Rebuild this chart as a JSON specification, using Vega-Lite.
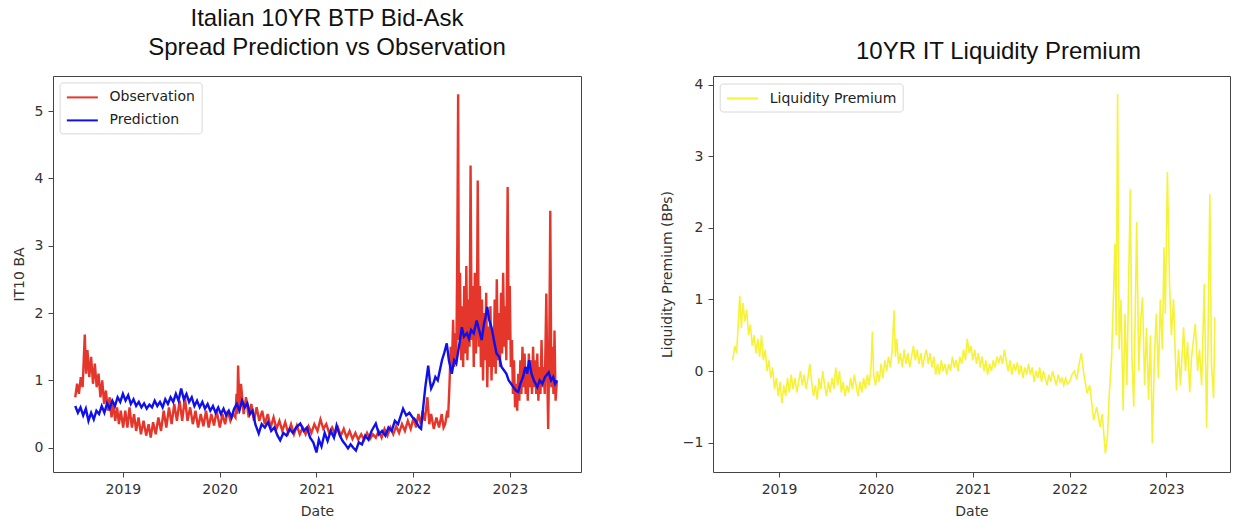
{
  "$schema": "https://vega.github.io/schema/vega-lite/v6.json",
  "background": "white",
  "padding": {"left": 11, "top": 6, "right": 0, "bottom": 0},
  "config": {
    "view": {"stroke": "#444", "strokeWidth": 1},
    "font": "DejaVu Sans",
    "axis": {"grid": false, "domain": false, "tickColor": "#444", "tickSize": 5, "labelPadding": 5, "labelFont": "DejaVu Sans", "labelFontSize": 14, "labelColor": "#333", "titleFont": "DejaVu Sans", "titleFontSize": 14, "titleFontWeight": "normal", "titleColor": "#333", "titlePadding": 8},
    "title": {"font": "Liberation Sans", "fontSize": 24, "fontWeight": "normal", "color": "#111", "lineHeight": 29},
    "concat": {"spacing": 77}
  },
  "resolve": {"scale": {"x": "independent", "y": "independent", "color": "independent"}, "legend": {"color": "independent"}},
  "datasets": {
    "bidask": [
      {"date":"2018-07-05","value":0.75,"series":"Observation"},{"date":"2018-07-12","value":0.95,"series":"Observation"},{"date":"2018-07-19","value":0.8,"series":"Observation"},{"date":"2018-07-26","value":1.05,"series":"Observation"},{"date":"2018-08-02","value":0.9,"series":"Observation"},{"date":"2018-08-06","value":1.3,"series":"Observation"},{"date":"2018-08-10","value":1.68,"series":"Observation"},{"date":"2018-08-15","value":1.1,"series":"Observation"},{"date":"2018-08-20","value":1.45,"series":"Observation"},{"date":"2018-08-27","value":1.05,"series":"Observation"},{"date":"2018-09-03","value":1.35,"series":"Observation"},{"date":"2018-09-10","value":0.95,"series":"Observation"},{"date":"2018-09-17","value":1.25,"series":"Observation"},{"date":"2018-09-24","value":0.9,"series":"Observation"},{"date":"2018-10-01","value":1.1,"series":"Observation"},{"date":"2018-10-08","value":0.75,"series":"Observation"},{"date":"2018-10-15","value":1.0,"series":"Observation"},{"date":"2018-10-22","value":0.65,"series":"Observation"},{"date":"2018-10-29","value":0.85,"series":"Observation"},{"date":"2018-11-05","value":0.55,"series":"Observation"},{"date":"2018-11-12","value":0.75,"series":"Observation"},{"date":"2018-11-19","value":0.45,"series":"Observation"},{"date":"2018-11-26","value":0.65,"series":"Observation"},{"date":"2018-12-03","value":0.4,"series":"Observation"},{"date":"2018-12-10","value":0.6,"series":"Observation"},{"date":"2018-12-17","value":0.35,"series":"Observation"},{"date":"2018-12-24","value":0.55,"series":"Observation"},
      {"date":"2019-01-02","value":0.3,"series":"Observation"},{"date":"2019-01-10","value":0.55,"series":"Observation"},{"date":"2019-01-18","value":0.3,"series":"Observation"},{"date":"2019-01-26","value":0.6,"series":"Observation"},{"date":"2019-02-04","value":0.3,"series":"Observation"},{"date":"2019-02-12","value":0.5,"series":"Observation"},{"date":"2019-02-20","value":0.25,"series":"Observation"},{"date":"2019-03-01","value":0.45,"series":"Observation"},{"date":"2019-03-10","value":0.2,"series":"Observation"},{"date":"2019-03-20","value":0.4,"series":"Observation"},{"date":"2019-03-30","value":0.18,"series":"Observation"},{"date":"2019-04-08","value":0.35,"series":"Observation"},{"date":"2019-04-16","value":0.15,"series":"Observation"},{"date":"2019-04-25","value":0.38,"series":"Observation"},{"date":"2019-05-05","value":0.2,"series":"Observation"},{"date":"2019-05-15","value":0.45,"series":"Observation"},{"date":"2019-05-25","value":0.25,"series":"Observation"},{"date":"2019-06-04","value":0.55,"series":"Observation"},{"date":"2019-06-14","value":0.3,"series":"Observation"},{"date":"2019-06-24","value":0.6,"series":"Observation"},{"date":"2019-07-04","value":0.35,"series":"Observation"},{"date":"2019-07-14","value":0.65,"series":"Observation"},{"date":"2019-07-24","value":0.4,"series":"Observation"},{"date":"2019-08-03","value":0.7,"series":"Observation"},{"date":"2019-08-13","value":0.4,"series":"Observation"},{"date":"2019-08-23","value":0.75,"series":"Observation"},{"date":"2019-09-02","value":0.4,"series":"Observation"},{"date":"2019-09-12","value":0.6,"series":"Observation"},{"date":"2019-09-22","value":0.35,"series":"Observation"},{"date":"2019-10-02","value":0.55,"series":"Observation"},{"date":"2019-10-12","value":0.3,"series":"Observation"},{"date":"2019-10-22","value":0.5,"series":"Observation"},{"date":"2019-11-01","value":0.32,"series":"Observation"},{"date":"2019-11-11","value":0.55,"series":"Observation"},{"date":"2019-11-21","value":0.3,"series":"Observation"},{"date":"2019-12-01","value":0.5,"series":"Observation"},{"date":"2019-12-11","value":0.33,"series":"Observation"},{"date":"2019-12-21","value":0.55,"series":"Observation"},
      {"date":"2020-01-02","value":0.3,"series":"Observation"},{"date":"2020-01-12","value":0.5,"series":"Observation"},{"date":"2020-01-22","value":0.35,"series":"Observation"},{"date":"2020-02-01","value":0.55,"series":"Observation"},{"date":"2020-02-11","value":0.4,"series":"Observation"},{"date":"2020-02-21","value":0.5,"series":"Observation"},{"date":"2020-03-01","value":0.45,"series":"Observation"},{"date":"2020-03-05","value":0.8,"series":"Observation"},{"date":"2020-03-08","value":0.5,"series":"Observation"},{"date":"2020-03-11","value":1.22,"series":"Observation"},{"date":"2020-03-16","value":0.6,"series":"Observation"},{"date":"2020-03-22","value":0.95,"series":"Observation"},{"date":"2020-04-01","value":0.5,"series":"Observation"},{"date":"2020-04-10","value":0.75,"series":"Observation"},{"date":"2020-04-20","value":0.45,"series":"Observation"},{"date":"2020-04-30","value":0.65,"series":"Observation"},{"date":"2020-05-10","value":0.4,"series":"Observation"},{"date":"2020-05-20","value":0.6,"series":"Observation"},{"date":"2020-05-30","value":0.4,"series":"Observation"},{"date":"2020-06-10","value":0.55,"series":"Observation"},{"date":"2020-06-20","value":0.35,"series":"Observation"},{"date":"2020-07-01","value":0.5,"series":"Observation"},{"date":"2020-07-12","value":0.3,"series":"Observation"},{"date":"2020-07-23","value":0.45,"series":"Observation"},{"date":"2020-08-03","value":0.28,"series":"Observation"},{"date":"2020-08-14","value":0.4,"series":"Observation"},{"date":"2020-08-25","value":0.25,"series":"Observation"},{"date":"2020-09-05","value":0.38,"series":"Observation"},{"date":"2020-09-16","value":0.22,"series":"Observation"},{"date":"2020-09-27","value":0.35,"series":"Observation"},{"date":"2020-10-08","value":0.2,"series":"Observation"},{"date":"2020-10-19","value":0.33,"series":"Observation"},{"date":"2020-10-30","value":0.2,"series":"Observation"},{"date":"2020-11-10","value":0.3,"series":"Observation"},{"date":"2020-11-21","value":0.2,"series":"Observation"},{"date":"2020-12-02","value":0.32,"series":"Observation"},{"date":"2020-12-13","value":0.22,"series":"Observation"},{"date":"2020-12-24","value":0.35,"series":"Observation"},
      {"date":"2021-01-05","value":0.25,"series":"Observation"},{"date":"2021-01-16","value":0.42,"series":"Observation"},{"date":"2021-01-27","value":0.28,"series":"Observation"},{"date":"2021-02-07","value":0.35,"series":"Observation"},{"date":"2021-02-18","value":0.22,"series":"Observation"},{"date":"2021-03-01","value":0.3,"series":"Observation"},{"date":"2021-03-12","value":0.2,"series":"Observation"},{"date":"2021-03-23","value":0.3,"series":"Observation"},{"date":"2021-04-03","value":0.18,"series":"Observation"},{"date":"2021-04-14","value":0.28,"series":"Observation"},{"date":"2021-04-25","value":0.15,"series":"Observation"},{"date":"2021-05-06","value":0.25,"series":"Observation"},{"date":"2021-05-17","value":0.13,"series":"Observation"},{"date":"2021-05-28","value":0.22,"series":"Observation"},{"date":"2021-06-08","value":0.12,"series":"Observation"},{"date":"2021-06-19","value":0.2,"series":"Observation"},{"date":"2021-06-30","value":0.12,"series":"Observation"},{"date":"2021-07-11","value":0.22,"series":"Observation"},{"date":"2021-07-22","value":0.13,"series":"Observation"},{"date":"2021-08-02","value":0.2,"series":"Observation"},{"date":"2021-08-13","value":0.15,"series":"Observation"},{"date":"2021-08-24","value":0.25,"series":"Observation"},{"date":"2021-09-04","value":0.15,"series":"Observation"},{"date":"2021-09-15","value":0.28,"series":"Observation"},{"date":"2021-09-26","value":0.18,"series":"Observation"},{"date":"2021-10-07","value":0.3,"series":"Observation"},{"date":"2021-10-18","value":0.2,"series":"Observation"},{"date":"2021-10-29","value":0.32,"series":"Observation"},{"date":"2021-11-09","value":0.22,"series":"Observation"},{"date":"2021-11-20","value":0.35,"series":"Observation"},{"date":"2021-12-01","value":0.25,"series":"Observation"},{"date":"2021-12-12","value":0.4,"series":"Observation"},{"date":"2021-12-23","value":0.28,"series":"Observation"},
      {"date":"2022-01-03","value":0.45,"series":"Observation"},{"date":"2022-01-12","value":0.3,"series":"Observation"},{"date":"2022-01-21","value":0.5,"series":"Observation"},{"date":"2022-01-30","value":0.35,"series":"Observation"},{"date":"2022-02-06","value":0.55,"series":"Observation"},{"date":"2022-02-14","value":0.4,"series":"Observation"},{"date":"2022-02-24","value":0.75,"series":"Observation"},{"date":"2022-03-03","value":0.35,"series":"Observation"},{"date":"2022-03-10","value":0.5,"series":"Observation"},{"date":"2022-03-20","value":0.28,"series":"Observation"},{"date":"2022-03-30","value":0.45,"series":"Observation"},{"date":"2022-04-09","value":0.3,"series":"Observation"},{"date":"2022-04-19","value":0.5,"series":"Observation"},{"date":"2022-04-26","value":0.3,"series":"Observation"},{"date":"2022-05-02","value":0.35,"series":"Observation"},{"date":"2022-05-08","value":0.5,"series":"Observation"},{"date":"2022-05-13","value":0.45,"series":"Observation"},{"date":"2022-05-18","value":0.9,"series":"Observation"},{"date":"2022-05-23","value":1.5,"series":"Observation"},{"date":"2022-05-27","value":1.1,"series":"Observation"},{"date":"2022-06-01","value":1.9,"series":"Observation"},{"date":"2022-06-05","value":1.2,"series":"Observation"},{"date":"2022-06-09","value":1.7,"series":"Observation"},{"date":"2022-06-13","value":1.3,"series":"Observation"},{"date":"2022-06-17","value":3.0,"series":"Observation"},{"date":"2022-06-20","value":5.25,"series":"Observation"},{"date":"2022-06-23","value":1.6,"series":"Observation"},{"date":"2022-06-27","value":2.6,"series":"Observation"},{"date":"2022-07-01","value":1.3,"series":"Observation"},{"date":"2022-07-05","value":2.1,"series":"Observation"},{"date":"2022-07-09","value":1.2,"series":"Observation"},{"date":"2022-07-13","value":2.4,"series":"Observation"},{"date":"2022-07-17","value":1.4,"series":"Observation"},{"date":"2022-07-21","value":2.7,"series":"Observation"},{"date":"2022-07-25","value":1.3,"series":"Observation"},{"date":"2022-07-29","value":2.2,"series":"Observation"},{"date":"2022-08-02","value":1.5,"series":"Observation"},{"date":"2022-08-06","value":4.19,"series":"Observation"},{"date":"2022-08-10","value":1.6,"series":"Observation"},{"date":"2022-08-14","value":2.4,"series":"Observation"},{"date":"2022-08-18","value":1.2,"series":"Observation"},{"date":"2022-08-22","value":2.6,"series":"Observation"},{"date":"2022-08-26","value":1.4,"series":"Observation"},{"date":"2022-08-30","value":2.0,"series":"Observation"},{"date":"2022-09-02","value":3.97,"series":"Observation"},{"date":"2022-09-06","value":1.5,"series":"Observation"},{"date":"2022-09-10","value":2.4,"series":"Observation"},{"date":"2022-09-14","value":1.2,"series":"Observation"},{"date":"2022-09-18","value":2.2,"series":"Observation"},{"date":"2022-09-22","value":1.0,"series":"Observation"},{"date":"2022-09-26","value":2.0,"series":"Observation"},{"date":"2022-09-30","value":1.3,"series":"Observation"},{"date":"2022-10-04","value":2.3,"series":"Observation"},{"date":"2022-10-08","value":0.9,"series":"Observation"},{"date":"2022-10-12","value":1.8,"series":"Observation"},{"date":"2022-10-16","value":1.2,"series":"Observation"},{"date":"2022-10-20","value":2.1,"series":"Observation"},{"date":"2022-10-24","value":1.0,"series":"Observation"},{"date":"2022-10-28","value":1.7,"series":"Observation"},{"date":"2022-11-01","value":1.2,"series":"Observation"},{"date":"2022-11-05","value":2.2,"series":"Observation"},{"date":"2022-11-09","value":1.1,"series":"Observation"},{"date":"2022-11-13","value":2.5,"series":"Observation"},{"date":"2022-11-17","value":1.3,"series":"Observation"},{"date":"2022-11-21","value":2.0,"series":"Observation"},{"date":"2022-11-25","value":1.2,"series":"Observation"},{"date":"2022-11-29","value":2.3,"series":"Observation"},{"date":"2022-12-03","value":1.4,"series":"Observation"},{"date":"2022-12-07","value":2.6,"series":"Observation"},{"date":"2022-12-11","value":1.5,"series":"Observation"},{"date":"2022-12-15","value":2.1,"series":"Observation"},{"date":"2022-12-19","value":1.3,"series":"Observation"},{"date":"2022-12-24","value":3.87,"series":"Observation"},{"date":"2022-12-28","value":1.6,"series":"Observation"},
      {"date":"2023-01-01","value":2.4,"series":"Observation"},{"date":"2023-01-05","value":1.2,"series":"Observation"},{"date":"2023-01-09","value":1.6,"series":"Observation"},{"date":"2023-01-13","value":0.8,"series":"Observation"},{"date":"2023-01-17","value":1.3,"series":"Observation"},{"date":"2023-01-21","value":0.6,"series":"Observation"},{"date":"2023-01-25","value":0.95,"series":"Observation"},{"date":"2023-01-29","value":0.55,"series":"Observation"},{"date":"2023-02-02","value":1.1,"series":"Observation"},{"date":"2023-02-06","value":0.7,"series":"Observation"},{"date":"2023-02-10","value":1.3,"series":"Observation"},{"date":"2023-02-14","value":0.8,"series":"Observation"},{"date":"2023-02-18","value":1.5,"series":"Observation"},{"date":"2023-02-22","value":0.9,"series":"Observation"},{"date":"2023-02-26","value":1.4,"series":"Observation"},{"date":"2023-03-02","value":0.8,"series":"Observation"},{"date":"2023-03-06","value":1.2,"series":"Observation"},{"date":"2023-03-10","value":0.7,"series":"Observation"},{"date":"2023-03-14","value":1.4,"series":"Observation"},{"date":"2023-03-18","value":0.9,"series":"Observation"},{"date":"2023-03-22","value":1.3,"series":"Observation"},{"date":"2023-03-26","value":0.8,"series":"Observation"},{"date":"2023-03-30","value":1.5,"series":"Observation"},{"date":"2023-04-03","value":0.9,"series":"Observation"},{"date":"2023-04-07","value":1.3,"series":"Observation"},{"date":"2023-04-11","value":0.8,"series":"Observation"},{"date":"2023-04-15","value":1.4,"series":"Observation"},{"date":"2023-04-19","value":0.7,"series":"Observation"},{"date":"2023-04-23","value":1.2,"series":"Observation"},{"date":"2023-04-27","value":0.8,"series":"Observation"},{"date":"2023-05-01","value":1.6,"series":"Observation"},{"date":"2023-05-05","value":0.9,"series":"Observation"},{"date":"2023-05-09","value":1.2,"series":"Observation"},{"date":"2023-05-13","value":0.8,"series":"Observation"},{"date":"2023-05-19","value":2.29,"series":"Observation"},{"date":"2023-05-23","value":1.0,"series":"Observation"},{"date":"2023-05-26","value":0.28,"series":"Observation"},{"date":"2023-05-30","value":1.4,"series":"Observation"},{"date":"2023-06-03","value":3.52,"series":"Observation"},{"date":"2023-06-07","value":0.9,"series":"Observation"},{"date":"2023-06-11","value":1.5,"series":"Observation"},{"date":"2023-06-15","value":0.8,"series":"Observation"},{"date":"2023-06-19","value":1.74,"series":"Observation"},{"date":"2023-06-23","value":0.7,"series":"Observation"},{"date":"2023-06-28","value":1.0,"series":"Observation"},
      {"date":"2018-07-05","value":0.62,"series":"Prediction"},{"date":"2018-07-15","value":0.52,"series":"Prediction"},{"date":"2018-07-25","value":0.6,"series":"Prediction"},{"date":"2018-08-04","value":0.48,"series":"Prediction"},{"date":"2018-08-14","value":0.58,"series":"Prediction"},{"date":"2018-08-24","value":0.4,"series":"Prediction"},{"date":"2018-09-03","value":0.52,"series":"Prediction"},{"date":"2018-09-13","value":0.42,"series":"Prediction"},{"date":"2018-09-23","value":0.55,"series":"Prediction"},{"date":"2018-10-03","value":0.5,"series":"Prediction"},{"date":"2018-10-13","value":0.62,"series":"Prediction"},{"date":"2018-10-23","value":0.52,"series":"Prediction"},{"date":"2018-11-02","value":0.66,"series":"Prediction"},{"date":"2018-11-12","value":0.58,"series":"Prediction"},{"date":"2018-11-22","value":0.7,"series":"Prediction"},{"date":"2018-12-02","value":0.62,"series":"Prediction"},{"date":"2018-12-12","value":0.75,"series":"Prediction"},{"date":"2018-12-22","value":0.68,"series":"Prediction"},
      {"date":"2019-01-01","value":0.8,"series":"Prediction"},{"date":"2019-01-11","value":0.7,"series":"Prediction"},{"date":"2019-01-21","value":0.78,"series":"Prediction"},{"date":"2019-01-31","value":0.65,"series":"Prediction"},{"date":"2019-02-10","value":0.72,"series":"Prediction"},{"date":"2019-02-20","value":0.62,"series":"Prediction"},{"date":"2019-03-02","value":0.68,"series":"Prediction"},{"date":"2019-03-12","value":0.6,"series":"Prediction"},{"date":"2019-03-22","value":0.66,"series":"Prediction"},{"date":"2019-04-01","value":0.58,"series":"Prediction"},{"date":"2019-04-11","value":0.64,"series":"Prediction"},{"date":"2019-04-21","value":0.6,"series":"Prediction"},{"date":"2019-05-01","value":0.7,"series":"Prediction"},{"date":"2019-05-11","value":0.62,"series":"Prediction"},{"date":"2019-05-21","value":0.68,"series":"Prediction"},{"date":"2019-05-31","value":0.6,"series":"Prediction"},{"date":"2019-06-10","value":0.72,"series":"Prediction"},{"date":"2019-06-20","value":0.65,"series":"Prediction"},{"date":"2019-06-30","value":0.75,"series":"Prediction"},{"date":"2019-07-10","value":0.68,"series":"Prediction"},{"date":"2019-07-20","value":0.8,"series":"Prediction"},{"date":"2019-07-30","value":0.7,"series":"Prediction"},{"date":"2019-08-09","value":0.88,"series":"Prediction"},{"date":"2019-08-19","value":0.72,"series":"Prediction"},{"date":"2019-08-29","value":0.8,"series":"Prediction"},{"date":"2019-09-08","value":0.68,"series":"Prediction"},{"date":"2019-09-18","value":0.75,"series":"Prediction"},{"date":"2019-09-28","value":0.62,"series":"Prediction"},{"date":"2019-10-08","value":0.7,"series":"Prediction"},{"date":"2019-10-18","value":0.6,"series":"Prediction"},{"date":"2019-10-28","value":0.68,"series":"Prediction"},{"date":"2019-11-07","value":0.58,"series":"Prediction"},{"date":"2019-11-17","value":0.65,"series":"Prediction"},{"date":"2019-11-27","value":0.55,"series":"Prediction"},{"date":"2019-12-07","value":0.62,"series":"Prediction"},{"date":"2019-12-17","value":0.52,"series":"Prediction"},{"date":"2019-12-27","value":0.6,"series":"Prediction"},
      {"date":"2020-01-06","value":0.5,"series":"Prediction"},{"date":"2020-01-16","value":0.58,"series":"Prediction"},{"date":"2020-01-26","value":0.48,"series":"Prediction"},{"date":"2020-02-05","value":0.55,"series":"Prediction"},{"date":"2020-02-15","value":0.45,"series":"Prediction"},{"date":"2020-02-25","value":0.58,"series":"Prediction"},{"date":"2020-03-06","value":0.65,"series":"Prediction"},{"date":"2020-03-16","value":0.55,"series":"Prediction"},{"date":"2020-03-26","value":0.7,"series":"Prediction"},{"date":"2020-04-05","value":0.6,"series":"Prediction"},{"date":"2020-04-15","value":0.66,"series":"Prediction"},{"date":"2020-04-25","value":0.5,"series":"Prediction"},{"date":"2020-05-05","value":0.55,"series":"Prediction"},{"date":"2020-05-15","value":0.35,"series":"Prediction"},{"date":"2020-05-28","value":0.21,"series":"Prediction"},{"date":"2020-06-08","value":0.35,"series":"Prediction"},{"date":"2020-06-20","value":0.3,"series":"Prediction"},{"date":"2020-07-02","value":0.38,"series":"Prediction"},{"date":"2020-07-14","value":0.25,"series":"Prediction"},{"date":"2020-07-26","value":0.3,"series":"Prediction"},{"date":"2020-08-07","value":0.18,"series":"Prediction"},{"date":"2020-08-17","value":0.11,"series":"Prediction"},{"date":"2020-08-29","value":0.22,"series":"Prediction"},{"date":"2020-09-10","value":0.18,"series":"Prediction"},{"date":"2020-09-22","value":0.28,"series":"Prediction"},{"date":"2020-10-04","value":0.22,"series":"Prediction"},{"date":"2020-10-16","value":0.3,"series":"Prediction"},{"date":"2020-11-01","value":0.36,"series":"Prediction"},{"date":"2020-11-14","value":0.25,"series":"Prediction"},{"date":"2020-11-26","value":0.3,"series":"Prediction"},{"date":"2020-12-08","value":0.15,"series":"Prediction"},{"date":"2020-12-20","value":0.08,"series":"Prediction"},
      {"date":"2021-01-01","value":-0.07,"series":"Prediction"},{"date":"2021-01-10","value":0.12,"series":"Prediction"},{"date":"2021-01-20","value":0.02,"series":"Prediction"},{"date":"2021-02-01","value":0.22,"series":"Prediction"},{"date":"2021-02-12","value":0.1,"series":"Prediction"},{"date":"2021-02-24","value":0.25,"series":"Prediction"},{"date":"2021-03-08","value":0.15,"series":"Prediction"},{"date":"2021-03-18","value":0.33,"series":"Prediction"},{"date":"2021-03-30","value":0.18,"series":"Prediction"},{"date":"2021-04-10","value":0.1,"series":"Prediction"},{"date":"2021-04-20","value":0.05,"series":"Prediction"},{"date":"2021-04-30","value":-0.01,"series":"Prediction"},{"date":"2021-05-10","value":0.05,"series":"Prediction"},{"date":"2021-05-20","value":0.0,"series":"Prediction"},{"date":"2021-05-30","value":-0.04,"series":"Prediction"},{"date":"2021-06-10","value":0.08,"series":"Prediction"},{"date":"2021-06-22","value":0.05,"series":"Prediction"},{"date":"2021-07-04","value":0.18,"series":"Prediction"},{"date":"2021-07-16","value":0.12,"series":"Prediction"},{"date":"2021-07-28","value":0.25,"series":"Prediction"},{"date":"2021-08-13","value":0.36,"series":"Prediction"},{"date":"2021-08-25","value":0.2,"series":"Prediction"},{"date":"2021-09-06","value":0.25,"series":"Prediction"},{"date":"2021-09-18","value":0.18,"series":"Prediction"},{"date":"2021-09-30","value":0.3,"series":"Prediction"},{"date":"2021-10-12","value":0.25,"series":"Prediction"},{"date":"2021-10-24","value":0.4,"series":"Prediction"},{"date":"2021-11-05","value":0.35,"series":"Prediction"},{"date":"2021-11-24","value":0.58,"series":"Prediction"},{"date":"2021-12-06","value":0.48,"series":"Prediction"},{"date":"2021-12-18","value":0.52,"series":"Prediction"},{"date":"2021-12-30","value":0.45,"series":"Prediction"},
      {"date":"2022-01-08","value":0.42,"series":"Prediction"},{"date":"2022-01-17","value":0.35,"series":"Prediction"},{"date":"2022-01-25","value":0.3,"series":"Prediction"},{"date":"2022-01-31","value":0.28,"series":"Prediction"},{"date":"2022-02-08","value":0.6,"series":"Prediction"},{"date":"2022-02-16","value":0.9,"series":"Prediction"},{"date":"2022-02-27","value":1.22,"series":"Prediction"},{"date":"2022-03-05","value":1.0,"series":"Prediction"},{"date":"2022-03-10","value":0.88,"series":"Prediction"},{"date":"2022-03-18","value":0.95,"series":"Prediction"},{"date":"2022-03-26","value":1.05,"series":"Prediction"},{"date":"2022-04-04","value":1.0,"series":"Prediction"},{"date":"2022-04-12","value":1.15,"series":"Prediction"},{"date":"2022-04-20","value":1.3,"series":"Prediction"},{"date":"2022-04-28","value":1.4,"series":"Prediction"},{"date":"2022-05-08","value":1.55,"series":"Prediction"},{"date":"2022-05-16","value":1.3,"series":"Prediction"},{"date":"2022-05-27","value":1.1,"series":"Prediction"},{"date":"2022-06-05","value":1.3,"series":"Prediction"},{"date":"2022-06-13","value":1.25,"series":"Prediction"},{"date":"2022-06-21","value":1.45,"series":"Prediction"},{"date":"2022-06-27","value":1.6,"series":"Prediction"},{"date":"2022-07-04","value":1.79,"series":"Prediction"},{"date":"2022-07-12","value":1.65,"series":"Prediction"},{"date":"2022-07-23","value":1.7,"series":"Prediction"},{"date":"2022-07-31","value":1.62,"series":"Prediction"},{"date":"2022-08-08","value":1.75,"series":"Prediction"},{"date":"2022-08-18","value":1.7,"series":"Prediction"},{"date":"2022-08-29","value":1.89,"series":"Prediction"},{"date":"2022-09-07","value":1.75,"series":"Prediction"},{"date":"2022-09-17","value":1.6,"series":"Prediction"},{"date":"2022-09-26","value":1.85,"series":"Prediction"},{"date":"2022-10-02","value":1.95,"series":"Prediction"},{"date":"2022-10-08","value":2.09,"series":"Prediction"},{"date":"2022-10-15","value":1.9,"series":"Prediction"},{"date":"2022-10-24","value":1.79,"series":"Prediction"},{"date":"2022-11-02","value":1.6,"series":"Prediction"},{"date":"2022-11-12","value":1.4,"series":"Prediction"},{"date":"2022-11-22","value":1.35,"series":"Prediction"},{"date":"2022-12-01","value":1.2,"series":"Prediction"},{"date":"2022-12-10","value":1.15,"series":"Prediction"},{"date":"2022-12-19","value":1.1,"series":"Prediction"},{"date":"2022-12-28","value":1.0,"series":"Prediction"},
      {"date":"2023-01-06","value":0.95,"series":"Prediction"},{"date":"2023-01-15","value":0.9,"series":"Prediction"},{"date":"2023-01-24","value":0.85,"series":"Prediction"},{"date":"2023-02-02","value":0.83,"series":"Prediction"},{"date":"2023-02-10","value":0.95,"series":"Prediction"},{"date":"2023-02-20","value":1.05,"series":"Prediction"},{"date":"2023-03-01","value":1.2,"series":"Prediction"},{"date":"2023-03-08","value":1.1,"series":"Prediction"},{"date":"2023-03-15","value":1.3,"series":"Prediction"},{"date":"2023-03-24","value":1.1,"series":"Prediction"},{"date":"2023-04-02","value":1.0,"series":"Prediction"},{"date":"2023-04-15","value":0.9,"series":"Prediction"},{"date":"2023-04-24","value":1.0,"series":"Prediction"},{"date":"2023-05-04","value":0.95,"series":"Prediction"},{"date":"2023-05-14","value":1.05,"series":"Prediction"},{"date":"2023-05-28","value":1.12,"series":"Prediction"},{"date":"2023-06-06","value":1.0,"series":"Prediction"},{"date":"2023-06-14","value":1.05,"series":"Prediction"},{"date":"2023-06-21","value":0.95,"series":"Prediction"},{"date":"2023-06-28","value":1.0,"series":"Prediction"}
    ],
    "premium": [
      {"date":"2018-07-10","value":0.15},{"date":"2018-07-18","value":0.35},{"date":"2018-07-25","value":0.25},{"date":"2018-08-01","value":0.7},{"date":"2018-08-06","value":1.05},{"date":"2018-08-12","value":0.6},{"date":"2018-08-18","value":0.95},{"date":"2018-08-25","value":0.7},{"date":"2018-09-01","value":0.85},{"date":"2018-09-08","value":0.5},{"date":"2018-09-15","value":0.65},{"date":"2018-09-22","value":0.35},{"date":"2018-09-29","value":0.5},{"date":"2018-10-06","value":0.25},{"date":"2018-10-13","value":0.45},{"date":"2018-10-20","value":0.2},{"date":"2018-10-27","value":0.5},{"date":"2018-11-03","value":0.15},{"date":"2018-11-10","value":0.3},{"date":"2018-11-17","value":0.0},{"date":"2018-11-24","value":0.15},{"date":"2018-12-01","value":-0.1},{"date":"2018-12-08","value":0.05},{"date":"2018-12-15","value":-0.25},{"date":"2018-12-22","value":-0.1},{"date":"2018-12-29","value":-0.35},
      {"date":"2019-01-05","value":-0.15},{"date":"2019-01-12","value":-0.45},{"date":"2019-01-19","value":-0.2},{"date":"2019-01-26","value":-0.35},{"date":"2019-02-02","value":-0.1},{"date":"2019-02-09","value":-0.3},{"date":"2019-02-16","value":-0.05},{"date":"2019-02-23","value":-0.25},{"date":"2019-03-02","value":-0.1},{"date":"2019-03-09","value":-0.3},{"date":"2019-03-16","value":-0.15},{"date":"2019-03-23","value":0.0},{"date":"2019-03-30","value":-0.2},{"date":"2019-04-06","value":-0.05},{"date":"2019-04-13","value":-0.25},{"date":"2019-04-20","value":-0.1},{"date":"2019-04-27","value":0.1},{"date":"2019-05-04","value":-0.15},{"date":"2019-05-11","value":-0.35},{"date":"2019-05-18","value":-0.2},{"date":"2019-05-25","value":-0.4},{"date":"2019-06-01","value":-0.1},{"date":"2019-06-08","value":-0.25},{"date":"2019-06-15","value":0.0},{"date":"2019-06-22","value":-0.2},{"date":"2019-06-29","value":-0.35},{"date":"2019-07-06","value":-0.15},{"date":"2019-07-13","value":-0.3},{"date":"2019-07-20","value":-0.1},{"date":"2019-07-27","value":-0.25},{"date":"2019-08-03","value":0.05},{"date":"2019-08-10","value":-0.2},{"date":"2019-08-17","value":0.0},{"date":"2019-08-24","value":-0.3},{"date":"2019-08-31","value":-0.15},{"date":"2019-09-07","value":-0.35},{"date":"2019-09-14","value":-0.2},{"date":"2019-09-21","value":-0.3},{"date":"2019-09-28","value":-0.1},{"date":"2019-10-05","value":-0.25},{"date":"2019-10-12","value":-0.05},{"date":"2019-10-19","value":-0.2},{"date":"2019-10-26","value":-0.35},{"date":"2019-11-02","value":-0.15},{"date":"2019-11-09","value":-0.3},{"date":"2019-11-16","value":-0.1},{"date":"2019-11-23","value":-0.25},{"date":"2019-11-30","value":-0.05},{"date":"2019-12-07","value":-0.2},{"date":"2019-12-14","value":0.05},{"date":"2019-12-19","value":0.55},{"date":"2019-12-24","value":-0.05},{"date":"2019-12-31","value":-0.2},
      {"date":"2020-01-07","value":0.0},{"date":"2020-01-14","value":-0.15},{"date":"2020-01-21","value":0.1},{"date":"2020-01-28","value":-0.1},{"date":"2020-02-04","value":0.15},{"date":"2020-02-11","value":0.0},{"date":"2020-02-18","value":0.2},{"date":"2020-02-25","value":0.05},{"date":"2020-03-03","value":0.3},{"date":"2020-03-10","value":0.85},{"date":"2020-03-15","value":0.2},{"date":"2020-03-20","value":0.45},{"date":"2020-03-27","value":0.1},{"date":"2020-04-03","value":0.25},{"date":"2020-04-10","value":0.05},{"date":"2020-04-17","value":0.3},{"date":"2020-04-24","value":0.1},{"date":"2020-05-01","value":0.25},{"date":"2020-05-08","value":0.05},{"date":"2020-05-15","value":0.2},{"date":"2020-05-22","value":0.35},{"date":"2020-05-29","value":0.15},{"date":"2020-06-05","value":0.3},{"date":"2020-06-12","value":0.1},{"date":"2020-06-19","value":0.25},{"date":"2020-06-26","value":0.05},{"date":"2020-07-03","value":0.2},{"date":"2020-07-10","value":0.3},{"date":"2020-07-17","value":0.1},{"date":"2020-07-24","value":0.25},{"date":"2020-07-31","value":0.05},{"date":"2020-08-07","value":0.2},{"date":"2020-08-14","value":-0.05},{"date":"2020-08-21","value":0.1},{"date":"2020-08-28","value":-0.05},{"date":"2020-09-04","value":0.15},{"date":"2020-09-11","value":0.0},{"date":"2020-09-18","value":0.1},{"date":"2020-09-25","value":-0.05},{"date":"2020-10-02","value":0.1},{"date":"2020-10-09","value":0.0},{"date":"2020-10-16","value":0.2},{"date":"2020-10-23","value":0.05},{"date":"2020-10-30","value":0.15},{"date":"2020-11-06","value":0.0},{"date":"2020-11-13","value":0.2},{"date":"2020-11-20","value":0.1},{"date":"2020-11-27","value":0.3},{"date":"2020-12-04","value":0.15},{"date":"2020-12-11","value":0.45},{"date":"2020-12-18","value":0.25},{"date":"2020-12-25","value":0.35},
      {"date":"2021-01-01","value":0.15},{"date":"2021-01-08","value":0.3},{"date":"2021-01-15","value":0.1},{"date":"2021-01-22","value":0.25},{"date":"2021-01-29","value":0.05},{"date":"2021-02-05","value":0.2},{"date":"2021-02-12","value":0.0},{"date":"2021-02-19","value":0.15},{"date":"2021-02-26","value":-0.05},{"date":"2021-03-05","value":0.1},{"date":"2021-03-12","value":0.0},{"date":"2021-03-19","value":0.15},{"date":"2021-03-26","value":0.05},{"date":"2021-04-02","value":0.2},{"date":"2021-04-09","value":0.12},{"date":"2021-04-16","value":0.22},{"date":"2021-04-23","value":0.1},{"date":"2021-04-30","value":0.3},{"date":"2021-05-07","value":0.15},{"date":"2021-05-14","value":0.0},{"date":"2021-05-21","value":0.15},{"date":"2021-05-28","value":-0.05},{"date":"2021-06-04","value":0.1},{"date":"2021-06-11","value":0.0},{"date":"2021-06-18","value":0.12},{"date":"2021-06-25","value":-0.05},{"date":"2021-07-02","value":0.08},{"date":"2021-07-09","value":-0.1},{"date":"2021-07-16","value":0.05},{"date":"2021-07-23","value":-0.05},{"date":"2021-07-30","value":0.1},{"date":"2021-08-06","value":-0.05},{"date":"2021-08-13","value":0.05},{"date":"2021-08-20","value":-0.15},{"date":"2021-08-27","value":0.0},{"date":"2021-09-03","value":-0.1},{"date":"2021-09-10","value":0.05},{"date":"2021-09-17","value":-0.15},{"date":"2021-09-24","value":0.0},{"date":"2021-10-01","value":-0.1},{"date":"2021-10-08","value":-0.2},{"date":"2021-10-15","value":-0.05},{"date":"2021-10-22","value":-0.15},{"date":"2021-10-29","value":0.0},{"date":"2021-11-05","value":-0.1},{"date":"2021-11-12","value":-0.2},{"date":"2021-11-19","value":-0.05},{"date":"2021-11-26","value":-0.15},{"date":"2021-12-03","value":-0.1},{"date":"2021-12-10","value":-0.2},{"date":"2021-12-17","value":-0.1},{"date":"2021-12-24","value":-0.18},
      {"date":"2022-01-01","value":-0.15},{"date":"2022-01-10","value":-0.05},{"date":"2022-01-19","value":0.0},{"date":"2022-01-28","value":-0.12},{"date":"2022-02-06","value":0.1},{"date":"2022-02-14","value":0.25},{"date":"2022-02-24","value":-0.05},{"date":"2022-03-08","value":-0.31},{"date":"2022-03-18","value":-0.2},{"date":"2022-04-02","value":-0.69},{"date":"2022-04-13","value":-0.5},{"date":"2022-04-26","value":-0.78},{"date":"2022-05-04","value":-0.6},{"date":"2022-05-16","value":-1.15},{"date":"2022-05-24","value":-0.9},{"date":"2022-05-31","value":-0.3},{"date":"2022-06-08","value":0.15},{"date":"2022-06-15","value":1.0},{"date":"2022-06-21","value":1.78},{"date":"2022-06-26","value":0.5},{"date":"2022-07-01","value":3.87},{"date":"2022-07-07","value":0.3},{"date":"2022-07-14","value":1.0},{"date":"2022-07-22","value":-0.55},{"date":"2022-07-29","value":0.8},{"date":"2022-08-05","value":-0.2},{"date":"2022-08-18","value":2.54},{"date":"2022-08-24","value":0.2},{"date":"2022-08-31","value":-0.5},{"date":"2022-09-11","value":2.08},{"date":"2022-09-19","value":0.0},{"date":"2022-09-26","value":0.7},{"date":"2022-10-03","value":1.03},{"date":"2022-10-11","value":-0.2},{"date":"2022-10-18","value":0.6},{"date":"2022-10-26","value":-0.4},{"date":"2022-11-02","value":0.5},{"date":"2022-11-09","value":-1.01},{"date":"2022-11-17","value":0.2},{"date":"2022-11-24","value":0.8},{"date":"2022-12-02","value":-0.1},{"date":"2022-12-09","value":1.0},{"date":"2022-12-17","value":0.3},{"date":"2022-12-23","value":1.73},{"date":"2022-12-28","value":0.8},
      {"date":"2023-01-05","value":2.78},{"date":"2023-01-13","value":1.2},{"date":"2023-01-20","value":0.5},{"date":"2023-01-28","value":1.0},{"date":"2023-02-08","value":-0.27},{"date":"2023-02-16","value":0.3},{"date":"2023-02-23","value":-0.2},{"date":"2023-03-07","value":0.61},{"date":"2023-03-14","value":0.0},{"date":"2023-03-22","value":0.4},{"date":"2023-03-30","value":-0.3},{"date":"2023-04-06","value":0.2},{"date":"2023-04-20","value":0.66},{"date":"2023-04-29","value":0.0},{"date":"2023-05-06","value":0.3},{"date":"2023-05-14","value":-0.2},{"date":"2023-05-24","value":1.22},{"date":"2023-06-02","value":-0.8},{"date":"2023-06-07","value":0.4},{"date":"2023-06-14","value":2.47},{"date":"2023-06-20","value":0.1},{"date":"2023-06-28","value":-0.38},{"date":"2023-07-03","value":0.75}
    ]
  },
  "hconcat": [
    {
      "width": 528,
      "height": 396,
      "title": {"text": ["Italian 10YR BTP Bid-Ask", "Spread Prediction vs Observation"], "dx": 10, "offset": 16},
      "data": {"name": "bidask"},
      "mark": {"type": "line", "strokeWidth": 2.4, "clip": true},
      "encoding": {
        "x": {"field": "date", "type": "temporal",
              "scale": {"domain": [{"year": 2018, "month": 4, "date": 12}, {"year": 2023, "month": 9, "date": 27}], "nice": false},
              "axis": {"title": "Date", "format": "%Y", "values": [{"year": 2019, "month": 1, "date": 1}, {"year": 2020, "month": 1, "date": 1}, {"year": 2021, "month": 1, "date": 1}, {"year": 2022, "month": 1, "date": 1}, {"year": 2023, "month": 1, "date": 1}]}},
        "y": {"field": "value", "type": "quantitative",
              "scale": {"domain": [-0.36, 5.52], "nice": false, "zero": false},
              "axis": {"title": "IT10 BA", "values": [0, 1, 2, 3, 4, 5]}},
        "color": {"field": "series", "type": "nominal",
                  "scale": {"domain": ["Observation", "Prediction"], "range": ["#e4362a", "#1010e8"]},
                  "legend": {"title": null, "orient": "none", "legendX": 6.6, "legendY": 6.4, "symbolType": "M-1,0H3", "symbolSize": 240, "symbolStrokeWidth": 2, "labelFont": "DejaVu Sans", "labelFontSize": 14, "labelColor": "#222", "labelOffset": 26, "padding": 6, "rowPadding": 7, "strokeColor": "#d8d8d8", "fillColor": "white", "cornerRadius": 3}}
      }
    },
    {
      "width": 517,
      "height": 396,
      "title": {"text": "10YR IT Liquidity Premium", "dx": 27, "offset": 12},
      "data": {"name": "premium"},
      "mark": {"type": "line", "strokeWidth": 1.6, "clip": true},
      "encoding": {
        "x": {"field": "date", "type": "temporal",
              "scale": {"domain": [{"year": 2018, "month": 4, "date": 27}, {"year": 2023, "month": 8, "date": 29}], "nice": false},
              "axis": {"title": "Date", "format": "%Y", "values": [{"year": 2019, "month": 1, "date": 1}, {"year": 2020, "month": 1, "date": 1}, {"year": 2021, "month": 1, "date": 1}, {"year": 2022, "month": 1, "date": 1}, {"year": 2023, "month": 1, "date": 1}]}},
        "y": {"field": "value", "type": "quantitative",
              "scale": {"domain": [-1.41, 4.12], "nice": false, "zero": false},
              "axis": {"title": "Liquidity Premium (BPs)", "values": [-1, 0, 1, 2, 3, 4]}},
        "color": {"datum": "Liquidity Premium", "type": "nominal",
                  "scale": {"domain": ["Liquidity Premium"], "range": ["#f6f23a"]},
                  "legend": {"title": null, "orient": "none", "legendX": 6.7, "legendY": 7.5, "symbolType": "M-1,0H3", "symbolSize": 240, "symbolStrokeWidth": 2, "labelFont": "DejaVu Sans", "labelFontSize": 14, "labelColor": "#222", "labelOffset": 26, "padding": 6, "rowPadding": 7, "strokeColor": "#d8d8d8", "fillColor": "white", "cornerRadius": 3}}
      }
    }
  ]
}
